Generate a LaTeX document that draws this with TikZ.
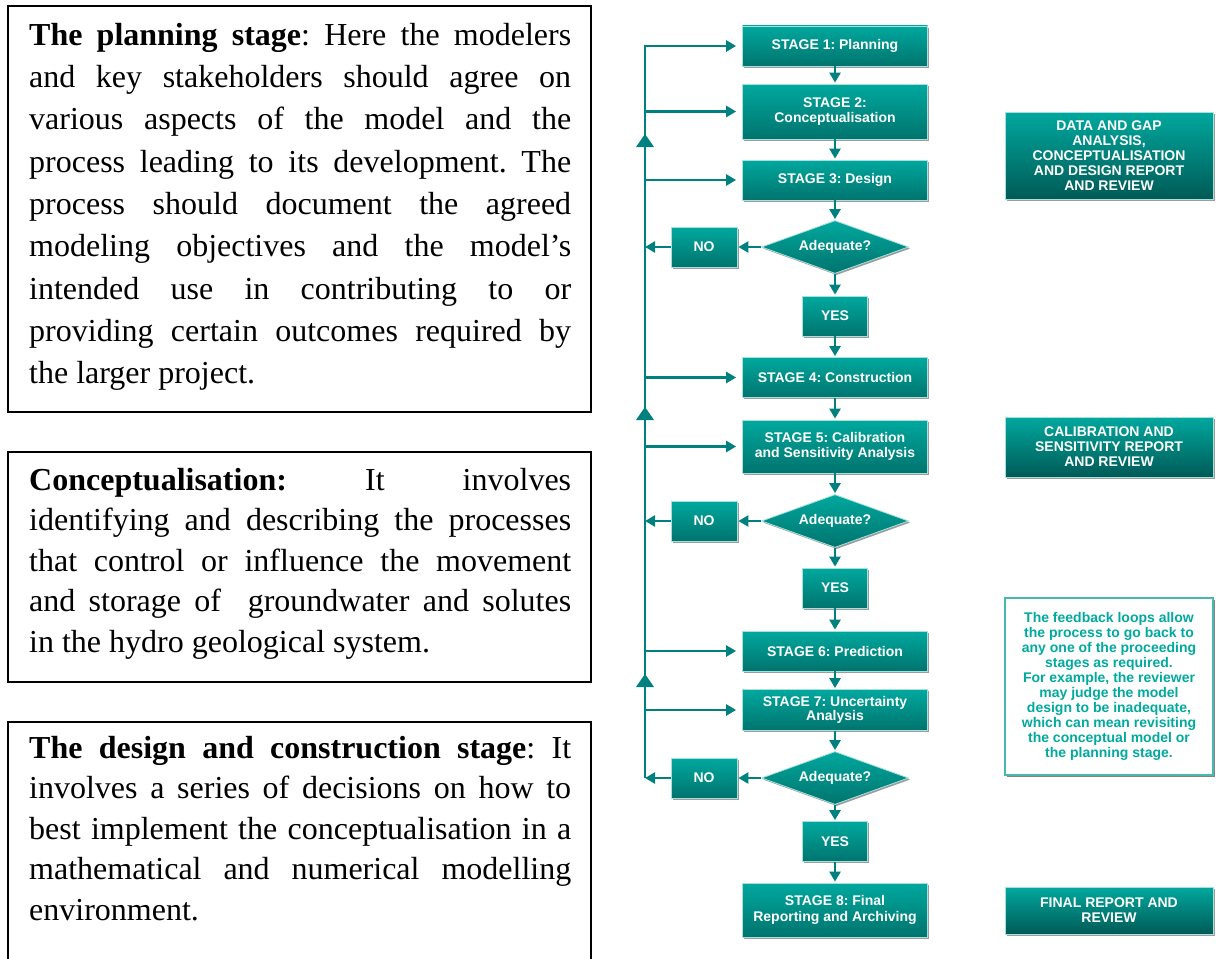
\documentclass[tikz,border=0pt]{standalone}
\usepackage{fontspec}
\setmainfont{Liberation Serif}
\newfontfamily\flowfont{Liberation Sans}
\usetikzlibrary{shapes.geometric,arrows.meta,shadows}
\tolerance=10000
\hbadness=10000
\hyphenpenalty=10000
\frenchspacing

\definecolor{tealtop}{RGB}{0,168,158}
\definecolor{tealbot}{RGB}{0,116,110}
\definecolor{tealdeep}{RGB}{0,90,86}
\definecolor{flowline}{RGB}{0,128,126}
\definecolor{notetext}{RGB}{0,170,158}
\definecolor{noteframe}{RGB}{70,185,176}

\tikzset{
  boxshadow/.style={drop shadow={shadow xshift=1.6pt,shadow yshift=-1.6pt,fill=black!55,opacity=0.7}},
  stagebox/.style={rectangle,draw=white!65!tealtop,line width=0.8pt,top color=tealtop,bottom color=tealbot,
    minimum width=185pt,minimum height=40pt,inner sep=0pt,align=center,text=white,
    font=\flowfont\bfseries\fontsize{14}{15.5}\selectfont,boxshadow},
  answerbox/.style={stagebox,minimum width=66pt},
  decision/.style={diamond,aspect=2.8,draw=white!65!tealtop,line width=0.8pt,top color=tealtop,bottom color=tealbot,
    minimum width=147pt,minimum height=53pt,inner sep=0pt,text=white,
    font=\flowfont\bfseries\fontsize{14}{15.5}\selectfont,boxshadow},
  reportbox/.style={stagebox,minimum width=208pt,bottom color=tealdeep,font=\flowfont\bfseries\fontsize{14}{15}\selectfont},
  notebox/.style={rectangle,draw=noteframe,line width=2pt,fill=white,minimum width=208pt,inner sep=0pt,align=center,
    text=notetext,font=\flowfont\bfseries\fontsize{14}{15}\selectfont,
    drop shadow={shadow xshift=2pt,shadow yshift=-2pt,fill=black!60,opacity=0.8}},
  flow/.style={draw=flowline,line width=2.5pt,-{Triangle[width=11pt,length=10pt]},shorten >=1pt},
  textframe/.style={draw=black,line width=1.6pt},
  bodytext/.style={anchor=north west,text width=542pt,align=justify,inner sep=0pt,font=\fontsize{32}{#1}\selectfont},
  bodytext/.default=40.5
}

\begin{document}
\begin{tikzpicture}[x=1pt,y=-1pt]
\useasboundingbox (0,0) rectangle (1217,958);
\fill[white] (0,0) rectangle (1217,958);

% text boxes on the left
\draw[textframe] (8,6) rectangle (591,412);
\node[bodytext=42.3] (plan) at (29,21) {\rule{0pt}{24pt}\textbf{The planning stage}: Here the modelers\linebreak
and key stakeholders should agree on\linebreak
various aspects of the model and the\linebreak
process leading to its development. The\linebreak
process should document the agreed\linebreak
modeling objectives and the model's\linebreak
intended use in contributing to or\linebreak
providing certain outcomes required by\linebreak
the larger project.};
\draw[textframe] (8,452) rectangle (591,682);
\node[bodytext] (concept) at (29,466) {\rule{0pt}{24pt}\textbf{Conceptualisation:} It involves\linebreak
identifying and describing the processes\linebreak
that control or influence the movement\linebreak
and storage of\ \ groundwater and solutes\linebreak
in the hydro geological system.};
\draw[textframe] (8,722) rectangle (591,980);
\node[bodytext] (design) at (29,734) {\rule{0pt}{24pt}\textbf{The design and construction stage}: It\linebreak
involves a series of decisions on how to\linebreak
best implement the conceptualisation in a\linebreak
mathematical and numerical modelling\linebreak
environment.};

% main column
\node[stagebox] (s1) at (835,46) {STAGE 1: Planning};
\node[stagebox,minimum height=55pt] (s2) at (835,111.5) {STAGE 2:\\Conceptualisation};
\node[stagebox] (s3) at (835,180) {STAGE 3: Design};
\node[decision] (d1) at (835,247) {Adequate?};
\node[answerbox] (no1) at (704,247) {NO};
\node[answerbox,minimum width=65pt] (yes1) at (835,316) {YES};
\node[stagebox] (s4) at (835,377.5) {STAGE 4: Construction};
\node[stagebox,minimum height=53pt] (s5) at (835,446.5) {STAGE 5: Calibration\\and Sensitivity Analysis};
\node[decision] (d2) at (835,521) {Adequate?};
\node[answerbox] (no2) at (704,521) {NO};
\node[answerbox,minimum width=65pt] (yes2) at (835,588) {YES};
\node[stagebox] (s6) at (835,651) {STAGE 6: Prediction};
\node[stagebox,minimum height=41pt,font=\flowfont\bfseries\fontsize{14}{14.5}\selectfont] (s7) at (835,710) {STAGE 7: Uncertainty\\Analysis};
\node[decision] (d3) at (835,778) {Adequate?};
\node[answerbox] (no3) at (704,778) {NO};
\node[answerbox,minimum width=65pt] (yes3) at (835,841.5) {YES};
\node[stagebox,minimum height=54pt] (s8) at (835,910) {STAGE 8: Final\\Reporting and Archiving};

% reports and note on the right
\node[reportbox,minimum height=87pt] (r1) at (1109,155.5) {DATA AND GAP\\ANALYSIS,\\CONCEPTUALISATION\\AND DESIGN REPORT\\AND REVIEW};
\node[reportbox,minimum height=60pt] (r2) at (1109,447) {CALIBRATION AND\\SENSITIVITY REPORT\\AND REVIEW};
\node[notebox,minimum height=177pt] (note) at (1109,686.5) {The feedback loops allow\\the process to go back to\\any one of the proceeding\\stages as required.\\For example, the reviewer\\may judge the model\\design to be inadequate,\\which can mean revisiting\\the conceptual model or\\the planning stage.};
\node[reportbox,minimum height=47pt] (r4) at (1109,910.5) {FINAL REPORT AND\\REVIEW};

% downward flow
\draw[flow] (s1) -- (s2);
\draw[flow] (s2) -- (s3);
\draw[flow] (s3) -- (d1);
\draw[flow] (d1) -- (yes1);
\draw[flow] (yes1) -- (s4);
\draw[flow] (s4) -- (s5);
\draw[flow] (s5) -- (d2);
\draw[flow] (d2) -- (yes2);
\draw[flow] (yes2) -- (s6);
\draw[flow] (s6) -- (s7);
\draw[flow] (s7) -- (d3);
\draw[flow] (d3) -- (yes3);
\draw[flow] (yes3) -- (s8);

% feedback loop
\coordinate (fbtop) at (645,46);
\coordinate (fbend) at (645,778);
\draw[flow,shorten >=6pt] (fbend) -- (fbtop) -- (s1.west);
\foreach \st in {s2,s3,s4,s5,s6,s7}
  \draw[flow,shorten >=6pt] (\st.west -| fbtop) -- (\st.west);
\foreach \n in {1,2,3}
  \draw[flow] (d\n.west) -- (no\n.east);
\draw[flow,shorten >=0pt] (no1.west) -- (no1.west -| fbtop);
\draw[flow,shorten >=0pt] (no2.west) -- (no2.west -| fbtop);
\draw[flow,shorten >=0pt] (no3.west) -- (fbend);
\foreach \ty in {147,420,687}
  \fill[flowline] (636,\ty) -- (654,\ty) -- (645,\ty-13) -- cycle;
\end{tikzpicture}
\end{document}
